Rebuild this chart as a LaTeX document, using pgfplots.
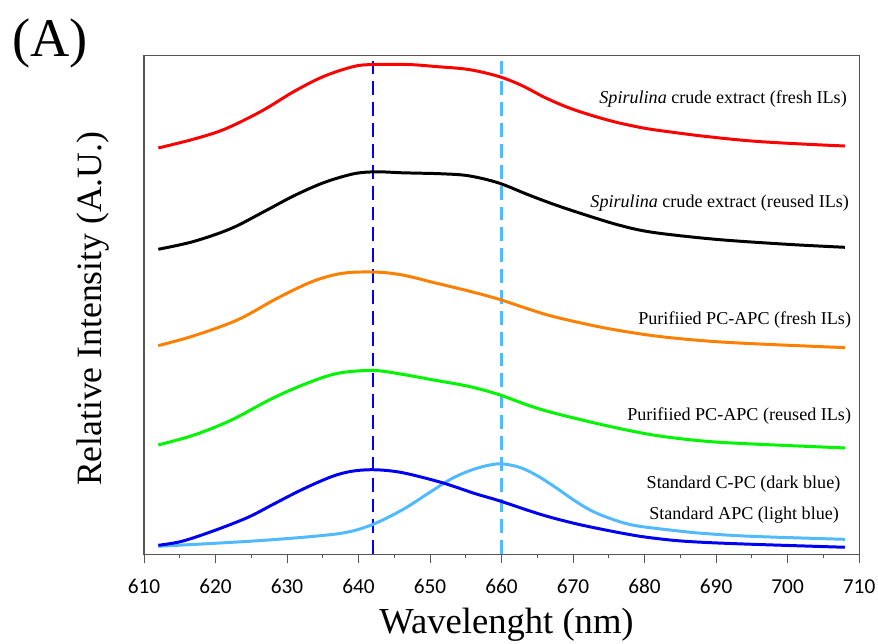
\documentclass[border=0pt]{standalone}
\usepackage{pgfplots}
\pgfplotsset{compat=1.18}
\usepackage{fontspec}
\setmainfont{Liberation Serif}
\newfontfamily\carlito{Carlito}
\definecolor{cred}{RGB}{255,0,0}
\definecolor{corange}{RGB}{255,128,0}
\definecolor{cgreen}{RGB}{0,245,0}
\definecolor{cdblue}{RGB}{0,0,245}
\definecolor{clblue}{RGB}{80,185,255}
\definecolor{axgray}{RGB}{85,85,85}
\begin{document}
\begin{tikzpicture}
\path[use as bounding box] (-145bp,-90bp) rectangle (739bp,558bp);
\begin{axis}[
  at={(0,0)}, anchor=south west,
  width=720bp, height=502bp, scale only axis,
  xmin=610, xmax=710, ymin=0, ymax=502,
  xtick={610,620,...,710},
  minor x tick num=1,
  ytick=\empty,
  xtick pos=bottom,
  tick align=outside,
  major tick length=8.5bp,
  minor tick length=4bp,
  axis line style={axgray, line width=1.1bp},
  every tick/.style={axgray, line width=1bp},
  xticklabel style={font=\carlito\fontsize{21.5}{21.5}\selectfont, anchor=base, yshift=-31bp},
  /pgf/number format/assume math mode=true,
  clip=false,
]
% dashed reference lines
\addplot[cdblue, line width=2.6bp, dash pattern=on 14bp off 7bp] coordinates {(642,0) (642,502)};
\addplot[clblue, line width=2.2bp, dash pattern=on 14bp off 7bp] coordinates {(660,0) (660,502)};
% red
\addplot[cred, line width=3bp, smooth, tension=0.55] coordinates {
(612,409) (617,418) (621.3,428) (626.4,446) (631,466) (635.1,481) (639.3,491) (642,493)
(647,493) (650.8,491) (655.4,488) (659.6,481) (662.8,472) (666,460) (669.2,450)
(672.5,442) (675.7,435.5) (678.5,431) (681.2,427.5) (688.1,421) (695,416) (702,413) (708,411)};
% black
\addplot[black, line width=3bp, smooth, tension=0.55] coordinates {
(612,307) (617,315) (622.2,328) (626.8,345) (631,361) (635.1,374) (639.3,383) (642.5,385)
(646.2,384) (651.7,383) (655.4,381) (659.5,374) (663.7,362) (667.4,352) (672,341)
(676.6,331) (681.2,324) (690,317) (700,312) (708,309)};
% orange
\addplot[corange, line width=3bp, smooth, tension=0.55] coordinates {
(612,210) (617,220) (623.1,236) (628.7,258) (633.7,275) (637.9,283) (642.5,284)
(646.2,281) (650.8,273) (655.4,265) (659.5,257) (663.7,247) (667.4,239) (674.3,228)
(681.2,220) (688.1,215) (695,212) (708,208)};
% green
\addplot[cgreen, line width=3bp, smooth, tension=0.55] coordinates {
(612,110) (617,120) (622.2,135) (627.7,156) (632.4,171) (637,182) (642,185)
(646.2,181) (650.8,175) (655.4,169) (659.5,161) (663.7,150) (667.4,142) (674.3,130)
(681.2,120) (688.1,114) (695,111) (708,107)};
% light blue (APC)
\addplot[clblue, line width=3bp, smooth, tension=0.55] coordinates {
(612,8) (619.9,11) (626.8,14) (633.7,18) (638.3,22) (642,30) (646.2,45) (649.9,62)
(653,76) (656.3,86) (659.6,91) (662.5,87.5) (665,79) (667.6,67) (670.2,54) (672.5,44)
(674.8,37) (677.1,31.5) (679.4,28) (684,24) (688.1,21) (695,18) (708,15)};
% dark blue (C-PC)
\addplot[cdblue, line width=3bp, smooth, tension=0.55] coordinates {
(612,9) (615.3,13) (619.9,24) (624.5,37) (628,50) (631.5,63) (634.5,73) (637,80)
(639.5,84) (642.5,85) (646.2,82) (651.7,72) (656.3,61) (659.6,54) (665.5,40) (670.2,31)
(674.8,24) (679.4,18) (684,14) (688.1,12) (695,10) (708,7)};
% curve labels
\begin{scope}[every node/.style={anchor=base east, inner sep=0pt, font=\fontsize{18.3}{18.3}\selectfont}]
\node at (axis cs:708.3,454) {\textit{Spirulina} crude extract (fresh ILs)};
\node at (axis cs:708.6,349) {\textit{Spirulina} crude extract (reused ILs)};
\node at (axis cs:708.9,231) {Purifiied PC-APC (fresh ILs)};
\node at (axis cs:708.9,135) {Purifiied PC-APC (reused ILs)};
\node at (axis cs:707.4,66) {Standard C-PC (dark blue)};
\node at (axis cs:707.2,35) {Standard APC (light blue)};
\end{scope}
\end{axis}
\node[anchor=base, inner sep=0pt, font=\fontsize{37}{37}\selectfont] at (365bp,-80bp) {Wavelenght (nm)};
\node[anchor=base, rotate=90, inner sep=0pt, font=\fontsize{36}{36}\selectfont] at (-43bp,247bp) {Relative Intensity (A.U.)};
\node[anchor=base west, inner sep=0pt, font=\fontsize{55}{55}\selectfont] at (-133bp,501bp) {(A)};
\end{tikzpicture}
\end{document}
